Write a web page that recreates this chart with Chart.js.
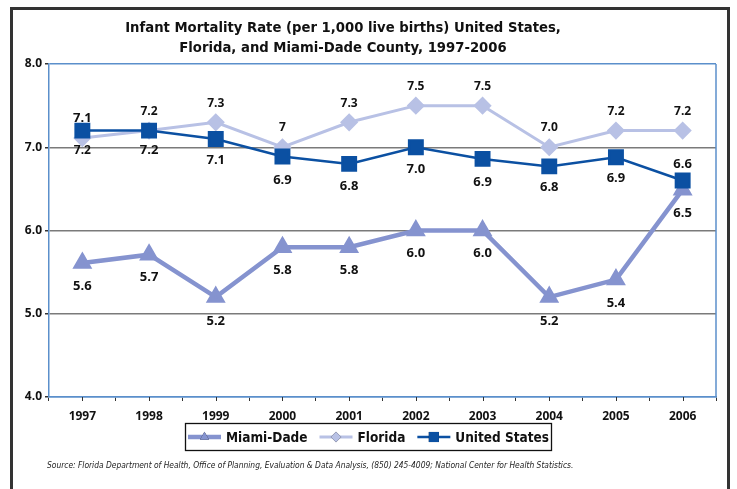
<!DOCTYPE html>
<html>
<head>
<meta charset="utf-8">
<script src="https://cdn.jsdelivr.net/npm/chart.js@4.4.0/dist/chart.umd.min.js"></script>
<style>
  html, body { margin: 0; padding: 0; background: #fff; }
  #wrap { width: 737px; height: 489px; position: relative; }
</style>
</head>
<body>
<div id="wrap"><canvas id="lineChart"></canvas></div>
<script>
// data
const years = ['1997','1998','1999','2000','2001','2002','2003','2004','2005','2006'];
const miamiDade = [5.61, 5.71, 5.2, 5.8, 5.8, 6.0, 6.0, 5.2, 5.41, 6.49];
const florida = [7.11, 7.2, 7.3, 7.0, 7.3, 7.5, 7.5, 7.0, 7.2, 7.2];
const unitedStates = [7.2, 7.2, 7.1, 6.89, 6.8, 7.0, 6.86, 6.77, 6.88, 6.6];

// labels printed next to the points (as shown in the source chart)
const miamiLabels = ['5.6','5.7','5.2','5.8','5.8','6.0','6.0','5.2','5.4','6.5'];
const floridaLabels = ['7.2','7.2','7.3','7','7.3','7.5','7.5','7.0','7.2','7.2'];
const usLabels = ['7.1','7.2','7.1','6.9','6.8','7.0','6.9','6.8','6.9','6.6'];

const yTicks = [4, 5, 6, 7, 8];

const titleLines = [
  'Infant Mortality Rate (per 1,000 live births) United States,',
  'Florida, and Miami-Dade County, 1997-2006'
];
const sourceText = 'Source: Florida Department of Health, Office of Planning, Evaluation & Data Analysis, (850) 245-4009; National Center for Health Statistics.';

const BLUE_AXIS = '#5b8fcb';
const GRID = '#7a7a7a';
const NARROW = '"Liberation Sans Narrow", "DejaVu Sans Condensed", sans-serif';
const LABEL_FONT = '"Open Sans", "DejaVu Sans", sans-serif';

// draws frame, title, point labels, legend box and source line
const decorPlugin = {
  id: 'decor',
  beforeDraw(chart) {
    const ctx = chart.ctx;
    ctx.save();
    ctx.fillStyle = '#fff';
    ctx.fillRect(0, 0, chart.width, chart.height);
    ctx.restore();
  },
  afterDraw(chart) {
    const ctx = chart.ctx;
    const area = chart.chartArea;
    const x = chart.scales.x;
    ctx.save();

    // outer frame
    ctx.strokeStyle = '#333';
    ctx.lineWidth = 3;
    ctx.beginPath();
    ctx.moveTo(11.5, 495);
    ctx.lineTo(11.5, 8.5);
    ctx.lineTo(728.5, 8.5);
    ctx.lineTo(728.5, 495);
    ctx.stroke();

    // right border of plot
    ctx.strokeStyle = BLUE_AXIS;
    ctx.lineWidth = 1.5;
    ctx.beginPath();
    ctx.moveTo(area.right, area.top);
    ctx.lineTo(area.right, area.bottom);
    ctx.stroke();

    // minor ticks at category centres
    ctx.strokeStyle = '#333';
    ctx.lineWidth = 1;
    years.forEach((y, i) => {
      const px = Math.round(x.getPixelForValue(i)) + 0.5;
      ctx.beginPath();
      ctx.moveTo(px, area.bottom);
      ctx.lineTo(px, area.bottom + 4);
      ctx.stroke();
    });

    // title
    ctx.fillStyle = '#111';
    ctx.textAlign = 'center';
    ctx.textBaseline = 'middle';
    ctx.font = 'bold 14.7px ' + NARROW;
    titleLines.forEach((t, i) => ctx.fillText(t, 343, 28 + i * 20));

    // point labels
    chart.data.datasets.forEach((ds, di) => {
      const meta = chart.getDatasetMeta(di);
      ctx.font = 'bold ' + ds.labelSize + 'px ' + LABEL_FONT;
      ctx.fillStyle = '#111';
      meta.data.forEach((pt, i) => {
        const off = ds.labelOffsets[i];
        ctx.fillText(ds.pointLabels[i], pt.x, pt.y + off);
      });
    });

    // legend box
    const box = { left: 185.5, top: 423.5, right: 551.5, bottom: 450.5 };
    ctx.strokeStyle = '#111';
    ctx.lineWidth = 1.3;
    ctx.strokeRect(box.left, box.top, box.right - box.left, box.bottom - box.top);
    const cy = (box.top + box.bottom) / 2;
    ctx.font = 'bold 13.5px ' + NARROW;
    ctx.textAlign = 'left';
    const sample = 33, gapIn = 5, gapOut = 12;
    const widths = chart.data.datasets.map(ds => ctx.measureText(ds.label).width);
    const total = widths.reduce((a, w) => a + sample + gapIn + w, 0) + gapOut * (widths.length - 1);
    let sx = (box.left + box.right) / 2 - total / 2;
    chart.data.datasets.forEach((ds, di) => {
      ctx.strokeStyle = ds.borderColor;
      ctx.lineWidth = ds.borderWidth;
      ctx.beginPath();
      ctx.moveTo(sx, cy);
      ctx.lineTo(sx + sample, cy);
      ctx.stroke();
      Chart.helpers.drawPoint(ctx, {
        pointStyle: ds.pointStyle,
        radius: ds.pointRadius * 0.75,
        rotation: 0,
        borderWidth: 0
      }, sx + sample / 2, cy);
      ctx.fillStyle = ds.borderColor;
      ctx.fill();
      ctx.fillStyle = '#111';
      ctx.fillText(ds.label, sx + sample + gapIn, cy + 1);
      sx += sample + gapIn + widths[di] + gapOut;
    });

    // source
    ctx.font = 'italic 8.4px ' + NARROW;
    ctx.fillStyle = '#222';
    ctx.fillText(sourceText, 47, 466);

    ctx.restore();
  }
};

new Chart(document.getElementById('lineChart'), {
  type: 'line',
  data: {
    labels: years,
    datasets: [
      {
        label: 'Miami-Dade', data: miamiDade, pointLabels: miamiLabels,
        labelOffsets: [23, 23, 24, 23, 23, 23, 23, 24, 24, 24], labelSize: 13,
        borderColor: '#8593cf', backgroundColor: '#8593cf', borderWidth: 4.5,
        pointStyle: 'triangle', pointRadius: 7, pointHoverRadius: 7, tension: 0, order: 3
      },
      {
        label: 'Florida', data: florida, pointLabels: floridaLabels,
        labelOffsets: [12, -19, -19, -20, -19, -19, -19, -20, -19, -19], labelSize: 12,
        borderColor: '#b8c1e5', backgroundColor: '#b8c1e5', borderWidth: 3,
        pointStyle: 'rectRot', pointRadius: 7, pointHoverRadius: 7, tension: 0, order: 2
      },
      {
        label: 'United States', data: unitedStates, pointLabels: usLabels,
        labelOffsets: [-12, 20, 21, 24, 22, 22, 23, 21, 21, -16], labelSize: 13,
        borderColor: '#0b50a2', backgroundColor: '#0b50a2', borderWidth: 2.5,
        pointStyle: 'rect', pointRadius: 9.5, pointHoverRadius: 9.5, tension: 0, order: 1
      }
    ]
  },
  options: {
    responsive: true,
    maintainAspectRatio: false,
    animation: false,
    layout: { padding: { left: 0, right: 21, top: 64, bottom: 0 } },
    plugins: { legend: { display: false }, title: { display: false }, tooltip: { enabled: false } },
    scales: {
      x: {
        offset: true,
        afterFit: s => { s.height = 92; },
        grid: { offset: true, drawOnChartArea: false, drawTicks: true, tickLength: 4, color: '#333', tickColor: '#333' },
        border: { color: BLUE_AXIS, width: 1.5 },
        ticks: { color: '#111', padding: 8, font: { family: LABEL_FONT, size: 12, weight: 'bold' } }
      },
      y: {
        min: 4, max: 8,
        afterFit: s => { s.width = 49; },
        afterBuildTicks: s => { s.ticks = yTicks.map(v => ({ value: v })); },
        grid: {
          color: c => (c.tick.value === 8 || c.tick.value === 4) ? BLUE_AXIS : GRID,
          lineWidth: 1.5, tickLength: 4, tickColor: '#333'
        },
        border: { color: BLUE_AXIS, width: 1.5 },
        ticks: {
          color: '#111', padding: 3,
          font: { family: LABEL_FONT, size: 12, weight: 'bold' },
          callback: v => v.toFixed(1)
        }
      }
    }
  },
  plugins: [decorPlugin]
});
</script>
</body>
</html>
